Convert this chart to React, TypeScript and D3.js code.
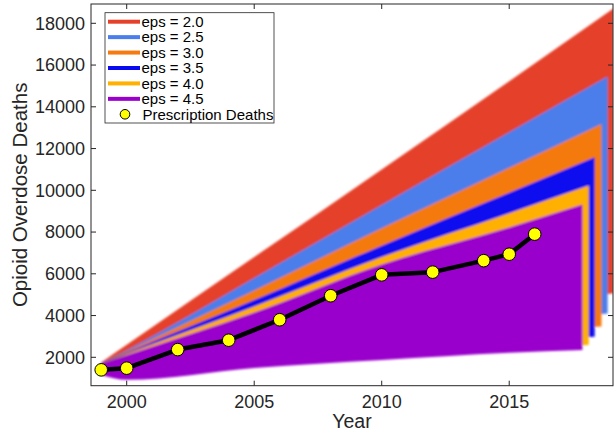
import React from 'react';
import * as d3 from 'd3';

// eps values of the model runs, one band each
const epsLabels = ['eps = 2.0', 'eps = 2.5', 'eps = 3.0', 'eps = 3.5', 'eps = 4.0', 'eps = 4.5'];
const epsColors = ['#E4402A', '#4B7EEA', '#F57A10', '#0A0AF0', '#FFB000', '#9900CC'];

// sample years shared by the bands; the last point of every band is its own end year
const bandYears = [1999, 2000, 2005, 2010, 2015];
const bandEndYears = [2019.1, 2018.86, 2018.62, 2018.35, 2018.12, 2017.87];

const upperEps20 = [1750, 2600, 6800, 11000, 15230, 18720];
const upperEps25 = [1720, 2340, 5800, 9300, 12780, 15450];
const upperEps30 = [1700, 2280, 5200, 8180, 11080, 13180];
const upperEps35 = [1700, 2220, 4740, 7350, 9880, 11580];
const upperEps40 = [1700, 2170, 4440, 6800, 8900, 10225];
const upperEps45 = [1700, 2110, 4150, 6450, 8220, 9315];

const lowerEps20 = [1500, 1200, 2100, 3200, 4400, 5070];
const lowerEps25 = [1450, 1150, 1950, 2800, 3650, 4100];
const lowerEps30 = [1400, 1100, 1800, 2450, 3150, 3470];
const lowerEps35 = [1350, 1050, 1700, 2200, 2750, 2990];
const lowerEps40 = [1300, 1000, 1600, 2000, 2420, 2590];
const lowerEps45 = [1150, 920, 1490, 1870, 2220, 2350];

const upperBounds = [upperEps20, upperEps25, upperEps30, upperEps35, upperEps40, upperEps45];
const lowerBounds = [lowerEps20, lowerEps25, lowerEps30, lowerEps35, lowerEps40, lowerEps45];

// observed prescription opioid deaths
const rxYears = [1999, 2000, 2002, 2004, 2006, 2008, 2010, 2012, 2014, 2015, 2016];
const rxDeaths = [1400, 1480, 2370, 2820, 3800, 4950, 5950, 6080, 6630, 6940, 7900];

const xTicks = [2000, 2005, 2010, 2015];
const yTicks = [2000, 4000, 6000, 8000, 10000, 12000, 14000, 16000, 18000];

const W = 614;
const H = 435;
const plot = { left: 91, right: 613, top: 4, bottom: 385.7 };
const font = '"Liberation Sans", Arial, Helvetica, sans-serif';
const ink = '#262626';

export default function App() {
  const x = d3.scaleLinear().domain([1998.6, 2019.07]).range([plot.left, plot.right]);
  const y = d3.scaleLinear().domain([640, 18925]).range([plot.bottom, plot.top]);

  type P = { yr: number; lo: number; hi: number };
  const area = d3
    .area<P>()
    .x((d) => x(d.yr))
    .y0((d) => y(d.lo))
    .y1((d) => y(d.hi))
    .curve(d3.curveMonotoneX);

  const bands = epsLabels.map((_, i) => {
    const yrs = [...bandYears, bandEndYears[i]];
    const pts: P[] = yrs.map((yr, j) => ({ yr, lo: lowerBounds[i][j], hi: upperBounds[i][j] }));
    return area(pts) ?? '';
  });

  const rxLine = d3
    .line<number>()
    .x((_, i) => x(rxYears[i]))
    .y((d) => y(d))(rxDeaths) ?? '';

  const tick = 5;
  const legendX = 105;
  const legendY = 12.7;
  const rowH = 15.43;

  return (
    <svg width={W} height={H} style={{ position: 'absolute', left: 0, top: 0, background: '#fff' }}>
      <defs>
        <clipPath id="plotClip">
          <rect x={plot.left} y={plot.top} width={plot.right - plot.left} height={plot.bottom - plot.top} />
        </clipPath>
        <filter id="soft" x="-5%" y="-5%" width="110%" height="110%">
          <feGaussianBlur stdDeviation="0.8" />
        </filter>
      </defs>

      <g clipPath="url(#plotClip)">
        <g filter="url(#soft)">
          {bands.map((d, i) => (
            <path key={i} d={d} fill={epsColors[i]} />
          ))}
        </g>
        <path d={rxLine} fill="none" stroke="#000" strokeWidth={4.5} strokeLinejoin="round" />
        {rxDeaths.map((v, i) => (
          <circle key={i} cx={x(rxYears[i])} cy={y(v)} r={6.3} fill="#FFFF00" stroke="#000" strokeWidth={1} />
        ))}
      </g>

      {/* axes box */}
      <rect
        x={plot.left}
        y={plot.top}
        width={plot.right - plot.left}
        height={plot.bottom - plot.top}
        fill="none"
        stroke={ink}
        strokeWidth={1}
      />
      {xTicks.map((t) => (
        <g key={t}>
          <line x1={x(t)} x2={x(t)} y1={plot.bottom} y2={plot.bottom - tick} stroke={ink} />
          <line x1={x(t)} x2={x(t)} y1={plot.top} y2={plot.top + tick} stroke={ink} />
          <text x={x(t)} y={407.5} textAnchor="middle" fontFamily={font} fontSize={18} fill={ink}>
            {t}
          </text>
        </g>
      ))}
      {yTicks.map((t) => (
        <g key={t}>
          <line x1={plot.left} x2={plot.left + tick} y1={y(t)} y2={y(t)} stroke={ink} />
          <line x1={plot.right} x2={plot.right - tick} y1={y(t)} y2={y(t)} stroke={ink} />
          <text x={85} y={y(t) + 6.3} textAnchor="end" fontFamily={font} fontSize={18} fill={ink}>
            {t}
          </text>
        </g>
      ))}

      <text x={(plot.left + plot.right) / 2} y={428} textAnchor="middle" fontFamily={font} fontSize={19.5} fill={ink}>
        Year
      </text>
      <text
        transform={`translate(26.5,${(plot.top + plot.bottom) / 2}) rotate(-90)`}
        textAnchor="middle"
        fontFamily={font}
        fontSize={20.5}
        fill={ink}
      >
        Opioid Overdose Deaths
      </text>

      {/* legend */}
      <rect x={legendX} y={legendY} width={169} height={110.3} fill="#fff" stroke={ink} strokeWidth={0.8} />
      {epsLabels.map((lab, i) => {
        const cy = 21.7 + rowH * i;
        return (
          <g key={lab}>
            <line x1={108} x2={140} y1={cy} y2={cy} stroke={epsColors[i]} strokeWidth={4} />
            <text x={141.5} y={cy + 5.3} fontFamily={font} fontSize={15} fill="#000">
              {lab}
            </text>
          </g>
        );
      })}
      <circle cx={125} cy={21.7 + rowH * 6} r={4.8} fill="#FFFF00" stroke="#000" strokeWidth={1} />
      <text x={142.5} y={21.7 + rowH * 6 + 5.3} fontFamily={font} fontSize={15} fill="#000">
        Prescription Deaths
      </text>
    </svg>
  );
}
